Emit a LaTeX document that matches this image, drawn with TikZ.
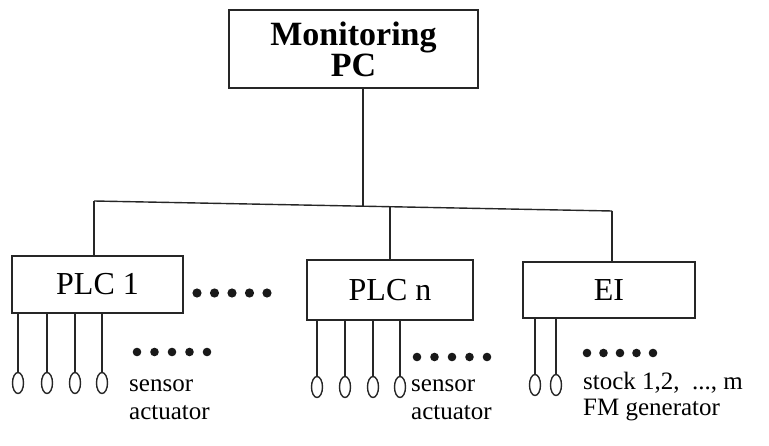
\documentclass[tikz,border=0pt]{standalone}
\usepackage{fontspec}
\setmainfont{Liberation Serif}
\usetikzlibrary{shapes.geometric}
\begin{document}
\begin{tikzpicture}[x=1pt,y=-1pt,
  box/.style={draw=black!85,line width=1.4pt,rectangle,inner sep=0pt},
  wire/.style={draw=black!85,line width=1.4pt},
  sens/.style={draw=black!85,line width=1.4pt,ellipse,inner sep=0pt,minimum width=11pt,minimum height=21pt},
  big/.style={font=\fontsize{32}{36}\selectfont},
  small/.style={font=\fontsize{25}{28}\selectfont,anchor=west,inner sep=0pt},
  dotrow/.style={fill=black!90}
]
\useasboundingbox (0,0) rectangle (769,446);

% boxes
\node[box,minimum width=249pt,minimum height=78pt,align=center,
      font=\fontsize{34}{30}\selectfont\bfseries] (pc) at (353.5,49) {Monitoring\\PC};
\node[box,big,minimum width=171pt,minimum height=57pt] (p1) at (97.5,284.5) {PLC 1};
\node[box,big,minimum width=166pt,minimum height=60pt] (pn) at (390,290) {PLC n};
\node[box,big,minimum width=172pt,minimum height=56pt] (ei) at (609,290) {EI};

% bus
\coordinate (busL) at (94,201);
\coordinate (busR) at (612,211);
\coordinate (busPC) at (363,206.2);
\coordinate (busN) at (390,206.7);
\draw[wire] (busL) -- (busR);
\draw[wire] (pc.south -| busPC) -- (busPC);
\draw[wire] (busL) -- (busL |- p1.north);
\draw[wire] (busN) -- (busN |- pn.north);
\draw[wire] (busR) -- (busR |- ei.north);

% sensors PLC 1
\foreach \n/\x in {a/18,b/47,c/75,d/102}{
  \node[sens] (s1\n) at (\x,383) {};
  \draw[wire] (p1.south -| s1\n) -- (s1\n.north);
}
% sensors PLC n
\foreach \n/\x in {a/317,b/345,c/373,d/400}{
  \node[sens] (sn\n) at (\x,387) {};
  \draw[wire] (pn.south -| sn\n) -- (sn\n.north);
}
% sensors EI
\foreach \n/\x in {a/535,b/556}{
  \node[sens] (se\n) at (\x,385) {};
  \draw[wire] (ei.south -| se\n) -- (se\n.north);
}

% dot rows
\foreach \i in {0,...,4}{
  \fill[dotrow] (197+\i*17.5,293) circle (4.6pt);
  \fill[dotrow] (137+\i*17.5,352) circle (4.3pt);
  \fill[dotrow] (417+\i*17.5,357) circle (4.3pt);
  \fill[dotrow] (587+\i*16.5,353) circle (4.3pt);
}

% labels
\node[small] (l1a) at (129,386) {sensor};
\node[small] (l1b) at (129,413) {actuator};
\node[small] (lna) at (411,386) {sensor};
\node[small] (lnb) at (411,413) {actuator};
\node[small] (lea) at (583,383) {stock 1,2,\ \ ..., m};
\node[small] (leb) at (583,410) {FM generator};
\end{tikzpicture}
\end{document}
